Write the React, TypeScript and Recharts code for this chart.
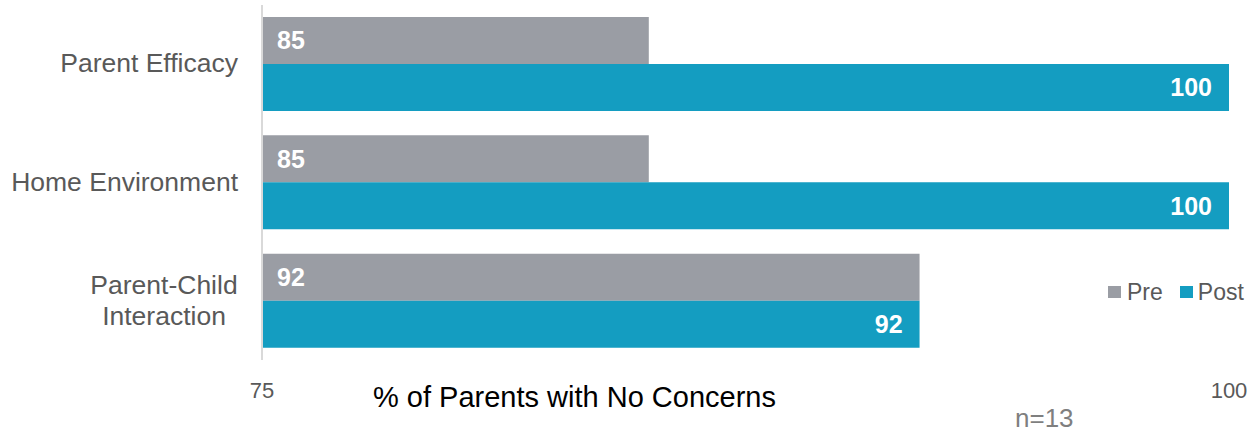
import { ReactElement } from 'react';
import { BarChart, Bar, XAxis, YAxis, Legend, LabelList } from 'recharts';

const categories = ['Parent Efficacy', 'Home Environment', 'Parent-Child Interaction'];
const preValues = [85, 85, 92];
const postValues = [100, 100, 92];
const xTicks = [75, 100];

const PRE_COLOR = '#9a9da4';
const POST_COLOR = '#149dc1';
const FONT = '"Liberation Sans", Arial, sans-serif';

const data = categories.map((name, i) => ({
  name,
  pre: preValues[i],
  post: postValues[i],
}));

// category labels: long one is wrapped in two centred lines
const CategoryTick = (props: any): ReactElement => {
  const { x, y, payload } = props;
  const label: string = payload.value;
  if (label === 'Parent-Child Interaction') {
    return (
      <g>
        <text x={x - 74} y={y - 7} textAnchor="middle" fill="#595959" fontSize={26.5} fontFamily={FONT}>
          Parent-Child
        </text>
        <text x={x - 74} y={y + 24} textAnchor="middle" fill="#595959" fontSize={26.5} fontFamily={FONT}>
          Interaction
        </text>
      </g>
    );
  }
  return (
    <text x={x} y={y + 8} textAnchor="end" fill="#595959" fontSize={26.5} fontFamily={FONT}>
      {label}
    </text>
  );
};

const LegendContent = (): ReactElement => (
  <div style={{ display: 'flex', alignItems: 'center', fontFamily: FONT, fontSize: 23, color: '#595959', lineHeight: '28px' }}>
    <span style={{ width: 13, height: 12, background: PRE_COLOR, display: 'inline-block', marginRight: 6 }} />
    <span style={{ marginRight: 17 }}>Pre</span>
    <span style={{ width: 13, height: 12, background: POST_COLOR, display: 'inline-block', marginRight: 5 }} />
    <span>Post</span>
  </div>
);

export default function App(): ReactElement {
  return (
    <div style={{ position: 'absolute', left: 0, top: 0, width: 1260, height: 433, background: '#fff' }}>
      <BarChart
        width={1260}
        height={433}
        data={data}
        layout="vertical"
        margin={{ top: 5, right: 31, bottom: 0, left: 0 }}
        barSize={47}
        barGap={0}
      >
        <XAxis
          type="number"
          domain={[75, 100]}
          ticks={xTicks}
          allowDataOverflow
          axisLine={false}
          tickLine={false}
          height={73}
          tickMargin={16}
          tick={{ fill: '#595959', fontSize: 22, fontFamily: FONT }}
        />
        <YAxis
          type="category"
          dataKey="name"
          width={262}
          axisLine={{ stroke: '#d9d9d9', strokeWidth: 2 }}
          tickLine={false}
          tickMargin={18}
          tick={<CategoryTick />}
        />
        <Legend
          layout="horizontal"
          verticalAlign="middle"
          align="center"
          content={<LegendContent />}
          wrapperStyle={{ position: 'absolute', left: 1108, top: 278, width: 'auto' }}
        />
        <Bar dataKey="pre" name="Pre" fill={PRE_COLOR} isAnimationActive={false}>
          <LabelList dataKey="pre" position="insideLeft" offset={15} fill="#fff" fontSize={25} fontWeight="bold" fontFamily={FONT} />
        </Bar>
        <Bar dataKey="post" name="Post" fill={POST_COLOR} isAnimationActive={false}>
          <LabelList dataKey="post" position="insideRight" offset={17} fill="#fff" fontSize={25} fontWeight="bold" fontFamily={FONT} />
        </Bar>
      </BarChart>
      <div style={{ position: 'absolute', left: 373, top: 382, fontFamily: FONT, fontSize: 29, lineHeight: '30px', color: '#000', whiteSpace: 'nowrap' }}>
        % of Parents with No Concerns
      </div>
      <div style={{ position: 'absolute', left: 1015, top: 403, fontFamily: FONT, fontSize: 26, lineHeight: '30px', color: '#7f7f7f', whiteSpace: 'nowrap' }}>
        n=13
      </div>
    </div>
  );
}
